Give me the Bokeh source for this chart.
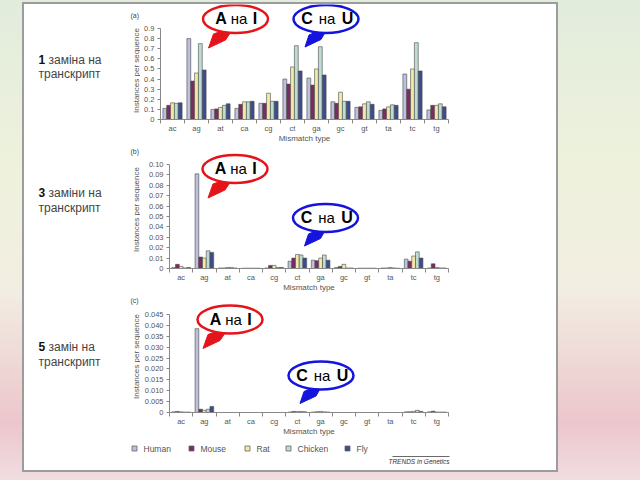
import numpy as np
from bokeh.plotting import figure
from bokeh.layouts import column, row
from bokeh.models import Range1d, FixedTicker
from bokeh.core.properties import value
from bokeh.embed import file_html
from bokeh.resources import INLINE

# ---------------- data ----------------
mismatch_types = ["ac", "ag", "at", "ca", "cg", "ct", "ga", "gc", "gt", "ta", "tc", "tg"]
species = ["Human", "Mouse", "Rat", "Chicken", "Fly"]
species_colors = ["#bcc0dc", "#7e2a62", "#f4eaa8", "#bedcd2", "#3d4c8a"]

# (a) one substitution per transcript
a_human = [0.11, 0.80, 0.10, 0.11, 0.16, 0.40, 0.41, 0.175, 0.12, 0.09, 0.45, 0.095]
a_mouse = [0.14, 0.38, 0.105, 0.15, 0.16, 0.35, 0.34, 0.16, 0.125, 0.105, 0.30, 0.14]
a_rat = [0.165, 0.46, 0.12, 0.175, 0.26, 0.52, 0.50, 0.27, 0.155, 0.125, 0.50, 0.14]
a_chicken = [0.16, 0.75, 0.14, 0.175, 0.18, 0.73, 0.72, 0.18, 0.175, 0.145, 0.76, 0.155]
a_fly = [0.165, 0.49, 0.155, 0.18, 0.18, 0.48, 0.44, 0.18, 0.15, 0.14, 0.48, 0.125]

# (b) three substitutions per transcript
b_human = [0.001, 0.091, 0.0005, 0.0003, 0.0005, 0.007, 0.008, 0.001, 0.0003, 0.0005, 0.009, 0.0005]
b_mouse = [0.004, 0.011, 0.0005, 0.0003, 0.003, 0.010, 0.0075, 0.002, 0.0003, 0.0005, 0.007, 0.0045]
b_rat = [0.002, 0.010, 0.001, 0.0003, 0.003, 0.0135, 0.010, 0.004, 0.0003, 0.001, 0.012, 0.001]
b_chicken = [0.0005, 0.017, 0.001, 0.0003, 0.001, 0.013, 0.013, 0.0005, 0.0003, 0.0005, 0.016, 0.0005]
b_fly = [0.001, 0.0155, 0.0005, 0.0003, 0.001, 0.010, 0.008, 0.0005, 0.0003, 0.0003, 0.010, 0.0005]

# (c) five substitutions per transcript
c_human = [0.0003, 0.0385, 0, 0, 0, 0.0002, 0.0002, 0, 0, 0, 0.0003, 0.0003]
c_mouse = [0.0005, 0.0015, 0, 0, 0, 0.0005, 0.0003, 0, 0, 0, 0.0003, 0.0006]
c_rat = [0.0003, 0.001, 0, 0, 0, 0.0005, 0.0005, 0, 0, 0, 0.0005, 0.0002]
c_chicken = [0.0002, 0.0015, 0, 0, 0, 0.0005, 0.0003, 0, 0, 0, 0.001, 0.0002]
c_fly = [0.0002, 0.0028, 0, 0, 0, 0.0003, 0.0002, 0, 0, 0, 0.0005, 0.0002]

a_ticks = ["0", "0.1", "0.2", "0.3", "0.4", "0.5", "0.6", "0.7", "0.8", "0.9"]
b_ticks = ["0", "0.01", "0.02", "0.03", "0.04", "0.05", "0.06", "0.07", "0.08", "0.09", "0.10"]
c_ticks = ["0", "0.005", "0.010", "0.015", "0.020", "0.025", "0.030", "0.035", "0.040", "0.045"]

panel_letters = ["(a)", "(b)", "(c)"]
left_numbers = ["1", "3", "5"]
left_line1 = ["заміна на", "заміни на", "замін на"]
left_line2 = "транскрипт"
x_title = "Mismatch type"
y_title = "Instances per sequence"
callout_red = ["A", "на", "I"]
callout_blue = ["C", "на", "U"]
credit = "TRENDS in Genetics"

# ---------------- layout geometry (page pixels) ----------------
FONT = "Liberation Sans"
GFONT = value(FONT)
IN_X, IN_Y, IN_W = 24, 4, 532
SPLIT = 140            # page x where the chart figure starts
RED, BLUE = "#e5141b", "#1414dc"

geoms = [
    dict(top=4, bottom=147, left=160, right=448, zero=119, tick=28),
    dict(top=147, bottom=296, left=169, right=448, zero=268, tick=164),
    dict(top=296, bottom=440, left=169, right=448, zero=412, tick=314),
]
left_middles = [(59, 73), (192, 207), (346, 361)]
letter_middles = [15, 151, 300]
ytitle_centers = [70, 209, 356]
callouts = [  # ellipse centres in page px
    ((235, 18.5), (325.5, 18.5)),
    ((234.5, 168.5), (325, 217.5)),
    ((229.5, 319), (320.5, 375)),
]
red_tail = [(-15, 12.5), (-5, 13.5), (-10, 21), (-27, 29), (-22, 15)]
blue_tail = [(-10, 13), (-1, 13.5), (-5, 20.5), (-21, 28), (-17, 16)]
red_text_dx = [-14.5, 3.5, 19.5]
blue_text_dx = [-19, 1, 21.5]


def left_panel(idx):
    g = geoms[idx]
    q = figure(width=SPLIT - IN_X, height=g["bottom"] - g["top"],
               x_range=Range1d(IN_X, SPLIT), y_range=Range1d(g["zero"], g["top"]),
               output_backend="svg", toolbar_location=None, x_axis_type=None, y_axis_type=None,
               min_border_left=0, min_border_right=0, min_border_top=0,
               min_border_bottom=g["bottom"] - g["zero"])
    q.outline_line_color = None
    q.xgrid.visible = False
    q.ygrid.visible = False
    q.background_fill_color = "white"
    q.border_fill_color = "white"
    m1, m2 = left_middles[idx]
    q.text(x=[38], y=[m1], text=[left_numbers[idx]], text_font=GFONT, text_font_size="12px",
           text_font_style="bold", text_color="#111111", text_baseline="middle")
    q.text(x=[48], y=[m1], text=[left_line1[idx]], text_font=GFONT, text_font_size="12px",
           text_color="#444444", text_baseline="middle")
    q.text(x=[38], y=[m2], text=[left_line2], text_font=GFONT, text_font_size="12px",
           text_color="#444444", text_baseline="middle")
    q.text(x=[130], y=[letter_middles[idx]], text=[panel_letters[idx]], text_font=GFONT,
           text_font_size="7px", text_color="#444444", text_baseline="middle")
    q.text(x=[136], y=[ytitle_centers[idx]], text=[y_title], angle=np.pi / 2, text_font=GFONT,
           text_font_size="8px", text_color="#555555", text_align="center", text_baseline="middle")
    return q


def make_panel(idx, series, tick_labels):
    g = geoms[idx]
    tick_vals = [float(t) for t in tick_labels]
    top_val = tick_vals[-1]
    y_end = top_val * (g["zero"] - g["top"]) / (g["zero"] - g["tick"])
    p = figure(width=IN_X + IN_W - SPLIT, height=g["bottom"] - g["top"],
               x_range=Range1d(0, len(mismatch_types)), y_range=Range1d(0, y_end),
               output_backend="svg", toolbar_location=None,
               min_border_left=g["left"] - SPLIT, min_border_right=IN_X + IN_W - g["right"],
               min_border_top=0, min_border_bottom=g["bottom"] - g["zero"])
    p.outline_line_color = None
    p.background_fill_color = "white"
    p.border_fill_color = "white"
    p.xgrid.visible = False
    p.ygrid.visible = False

    centers = np.arange(len(mismatch_types)) + 0.5
    bw = 0.16
    for k, (vals, col) in enumerate(zip(series, species_colors)):
        p.vbar(x=centers + (k - 2) * bw, top=vals, width=bw, bottom=0,
               fill_color=col, line_color="#4a4a4a", line_width=0.6)

    xa = p.xaxis[0]
    xa.ticker = FixedTicker(ticks=list(centers), minor_ticks=list(range(len(mismatch_types) + 1)))
    xa.major_label_overrides = {float(c): m for c, m in zip(centers, mismatch_types)}
    xa.major_tick_out = 0
    xa.major_tick_in = 0
    xa.minor_tick_out = 4
    xa.minor_tick_in = 0
    xa.minor_tick_line_color = "#888888"
    xa.axis_line_color = "#888888"
    xa.bounds = (0, len(mismatch_types))
    xa.major_label_text_font = FONT
    xa.major_label_text_font_size = "7.5px"
    xa.major_label_text_color = "#555555"
    xa.major_label_standoff = 0
    xa.axis_label = x_title
    xa.axis_label_text_font = FONT
    xa.axis_label_text_font_size = "8px"
    xa.axis_label_text_font_style = "normal"
    xa.axis_label_text_color = "#555555"
    xa.axis_label_standoff = -2

    ya = p.yaxis[0]
    ya.ticker = FixedTicker(ticks=tick_vals, minor_ticks=[])
    ya.major_label_overrides = {v: t for v, t in zip(tick_vals, tick_labels)}
    ya.major_tick_out = 3
    ya.major_tick_in = 0
    ya.major_tick_line_color = "#888888"
    ya.axis_line_color = "#888888"
    ya.bounds = (0, top_val)
    ya.major_label_text_font = FONT
    ya.major_label_text_font_size = "7.5px"
    ya.major_label_text_color = "#555555"
    ya.major_label_standoff = 3

    # callouts
    cat_w = (g["right"] - g["left"]) / len(mismatch_types)
    v_px = top_val / (g["zero"] - g["tick"])

    def cx(px):
        return (px - g["left"]) / cat_w

    def cy(py):
        return (g["zero"] - py) * v_px

    for (ccx, ccy), color, tail, parts, dxs in [
        (callouts[idx][0], RED, red_tail, callout_red, red_text_dx),
        (callouts[idx][1], BLUE, blue_tail, callout_blue, blue_text_dx),
    ]:
        p.patch([cx(ccx + dx) for dx, dy in tail], [cy(ccy + dy) for dx, dy in tail],
                fill_color=color, line_color=color, line_width=1)
        p.ellipse(x=[cx(ccx)], y=[cy(ccy)], width=65, height=28,
                  width_units="screen", height_units="screen",
                  fill_color="white", line_color=color, line_width=2.5)
        for j, (txt, dx) in enumerate(zip(parts, dxs)):
            p.text(x=[cx(ccx + dx)], y=[cy(ccy - 0.5)], text=[txt], text_font=GFONT,
                   text_font_size="16px" if j != 1 else "15px",
                   text_font_style="bold" if j != 1 else "normal",
                   text_align="center", text_baseline="middle", text_color="#000000")
    return p


panel_series = [
    [a_human, a_mouse, a_rat, a_chicken, a_fly],
    [b_human, b_mouse, b_rat, b_chicken, b_fly],
    [c_human, c_mouse, c_rat, c_chicken, c_fly],
]
panel_ticks = [a_ticks, b_ticks, c_ticks]
rows = [row(left_panel(i), make_panel(i, panel_series[i], panel_ticks[i])) for i in range(3)]

# legend strip
L_TOP, L_BOT = 440, 470
fl = figure(width=IN_W, height=L_BOT - L_TOP, x_range=Range1d(IN_X, IN_X + IN_W),
            y_range=Range1d(L_BOT, L_TOP),
            output_backend="svg", toolbar_location=None, x_axis_type=None, y_axis_type=None,
            min_border_left=0, min_border_right=0, min_border_top=0, min_border_bottom=0)
fl.outline_line_color = None
fl.xgrid.visible = False
fl.ygrid.visible = False
fl.background_fill_color = "white"
fl.border_fill_color = "white"
legend_x = [134, 191, 247, 288, 347]
fl.scatter(x=legend_x, y=[448] * len(species), marker="square", size=5,
           fill_color=species_colors, line_color="#666666", line_width=0.8)
fl.text(x=[v + 9 for v in legend_x], y=[448] * len(species), text=species, text_font=GFONT,
        text_font_size="8.5px", text_color="#555555", text_baseline="middle")
fl.segment(x0=[392], y0=[456], x1=[449], y1=[456], line_color="#444444", line_width=0.8)
fl.text(x=[449], y=[460.5], text=[credit], text_align="right", text_font=GFONT,
        text_font_size="6.5px", text_font_style="italic", text_color="#333333",
        text_baseline="middle")

inner = column(*rows, fl, margin=(IN_Y, 0, 0, IN_X),
               styles={"background-color": "white", "outline": "2px solid #9c9c9c"})
page = column(inner, width=640, height=480,
              styles={"background": "linear-gradient(180deg, #e2ecdc 0%, #eef2dc 35%, #f2eee2 60%, #ecc6cc 88%, #f0dde0 100%)"})

open("out.html", "w").write(file_html(page, INLINE))
